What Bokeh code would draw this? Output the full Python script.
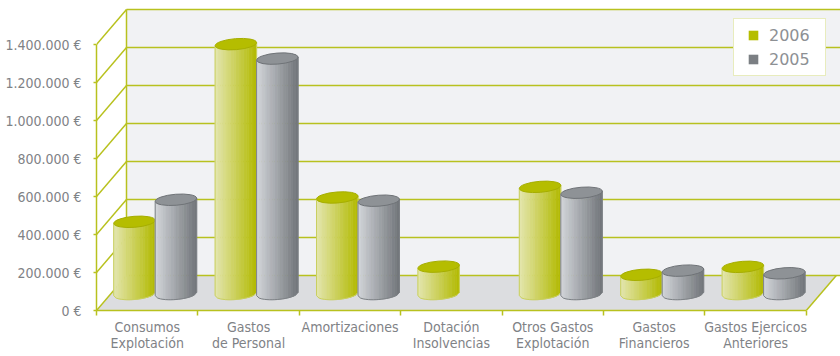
import math
from bokeh.plotting import figure
from bokeh.models import Range1d, FixedTicker, Legend, LegendItem
from bokeh.embed import file_html
from bokeh.resources import INLINE

# ---------------- data ----------------
categories = ["Consumos\nExplotación", "Gastos\nde Personal", "Amortizaciones",
              "Dotación\nInsolvencias", "Otros Gastos\nExplotación",
              "Gastos\nFinancieros", "Gastos Ejercicos\nAnteriores"]
series_names = ["2006", "2005"]
values_2006 = [380000, 1315000, 508000, 144000, 564000, 101000, 143000]
values_2005 = [496000, 1239000, 491000, 0, 533000, 123000, 109000]
y_ticks = [0, 200000, 400000, 600000, 800000, 1000000, 1200000, 1400000]
y_tick_labels = ["0 €", "200.000 €", "400.000 €", "600.000 €", "800.000 €",
                 "1.000.000 €", "1.200.000 €", "1.400.000 €"]

# ---------------- style / geometry ----------------
W, H = 840, 356
LEFT, BOTTOM = 96, 46
FRAME_W, FRAME_H = W - LEFT, H - BOTTOM
CAT_PX = 101.4
N_CAT = len(categories)
Y_TOP_VAL = y_ticks[-1]
PX_X = 1.0 / CAT_PX
PX_Y = Y_TOP_VAL / 266.0
X_END = FRAME_W * PX_X
Y_MAX = FRAME_H * PX_Y
DX, DY = 30 * PX_X, 35 * PX_Y

GRID = "#b8c11e"
WALL = "#f1f2f4"
FLOOR = "#dcdde0"
TEXT = "#7f8286"
FONT = "DejaVu Sans Condensed"

BAR_W = 41.5
OX, OY = 8.0, 16.5
ELL_H = 11.0
TILT = 0.08
NSTRIP = 16

series_style = {
    "2006": dict(light=(0xe4, 0xe6, 0xb0), dark=(0xb2, 0xba, 0x00), top="#b5bd00",
                 topline="#a6ae00", outline="#c9cf60", legend="#b5bd00"),
    "2005": dict(light=(0xd3, 0xd6, 0xda), dark=(0x70, 0x74, 0x79), top="#8e9296",
                 topline="#6f7377", outline="#7d8185", legend="#7b7f83"),
}

p = figure(width=W, height=H, output_backend="svg", toolbar_location=None,
           x_range=Range1d(0, X_END), y_range=Range1d(0, Y_MAX),
           min_border_left=LEFT, min_border_right=0, min_border_top=0,
           min_border_bottom=BOTTOM)
p.background_fill_color = "white"
p.border_fill_color = "white"
p.outline_line_color = None
p.xgrid.visible = False
p.ygrid.visible = False

# back wall and floor
p.quad(left=[DX], right=[X_END], bottom=[DY], top=[Y_TOP_VAL + DY],
       fill_color=WALL, line_color=None)
p.patch([0, N_CAT, N_CAT + DX, DX], [0, 0, DY, DY], fill_color=FLOOR, line_color=None)

# grid lines on wall + diagonals
p.segment(x0=[DX] * len(y_ticks), y0=[v + DY for v in y_ticks],
          x1=[X_END] * len(y_ticks), y1=[v + DY for v in y_ticks],
          line_color=GRID, line_width=1.5)
p.segment(x0=[0] * len(y_ticks), y0=y_ticks, x1=[DX] * len(y_ticks),
          y1=[v + DY for v in y_ticks], line_color=GRID, line_width=1.5)
p.segment(x0=[DX, N_CAT], y0=[DY, 0], x1=[DX, N_CAT + DX], y1=[Y_TOP_VAL + DY, DY],
          line_color=GRID, line_width=1.5)


def mix(c1, c2, t):
    return "#%02x%02x%02x" % tuple(int(round(a + (b - a) * t)) for a, b in zip(c1, c2))


a_px = BAR_W / 2.0
b_px = ELL_H / 2.0
slope = math.tan(TILT)

for i in range(N_CAT):
    for s, name in enumerate(series_names):
        val = (values_2006 if name == "2006" else values_2005)[i]
        if val <= 0:
            continue
        st = series_style[name]
        xc = i + 0.5 + OX * PX_X + (s - 0.5) * BAR_W * PX_X
        yb = OY * PX_Y
        yt = yb + val
        us = [-1 + 2.0 * k / NSTRIP for k in range(NSTRIP + 1)]
        xs = [xc + u * a_px * PX_X for u in us]
        tops = [yt + u * a_px * slope * PX_Y for u in us]
        bots = [yb + u * a_px * slope * PX_Y - b_px * math.sqrt(max(0.0, 1 - u * u)) * PX_Y
                for u in us]
        sx, sy, cols = [], [], []
        for j in range(NSTRIP):
            sx.append([xs[j], xs[j + 1], xs[j + 1], xs[j]])
            sy.append([tops[j], tops[j + 1], bots[j + 1], bots[j]])
            cols.append(mix(st["light"], st["dark"], (j + 0.5) / NSTRIP))
        p.patches(xs=sx, ys=sy, fill_color=cols, line_color=cols, line_width=0.6)
        p.line(x=[xs[0]] + xs + [xs[-1]], y=[tops[0]] + bots + [tops[-1]],
               line_color=st["outline"], line_width=1)
        p.ellipse(x=[xc], y=[yt], width=BAR_W, height=ELL_H, width_units="screen",
                  height_units="screen", angle=TILT, fill_color=st["top"],
                  line_color=st["topline"], line_width=1)

# legend proxies (placed outside the visible range)
legend_renderers = {}
for name in series_names:
    legend_renderers[name] = p.scatter(x=[-5], y=[-Y_MAX], marker="square", size=11,
                                       fill_color=series_style[name]["legend"],
                                       line_color=None)

# axes
ya = p.yaxis[0]
ya.ticker = FixedTicker(ticks=y_ticks, minor_ticks=[])
ya.major_label_overrides = {v: lab for v, lab in zip(y_ticks, y_tick_labels)}
ya.bounds = (0, Y_TOP_VAL)
ya.axis_line_color = GRID
ya.axis_line_width = 1.5
ya.major_tick_line_color = GRID
ya.major_tick_line_width = 1.5
ya.major_tick_out = 3
ya.major_tick_in = 0
ya.minor_tick_line_color = None
ya.major_label_standoff = 12
ya.major_label_text_font = FONT
ya.major_label_text_font_size = "14px"
ya.major_label_text_color = TEXT

centers = [i + 0.5 for i in range(N_CAT)]
xa = p.xaxis[0]
xa.ticker = FixedTicker(ticks=centers, minor_ticks=list(range(N_CAT + 1)))
xa.major_label_overrides = {c: lab for c, lab in zip(centers, categories)}
xa.bounds = (0, N_CAT)
xa.axis_line_color = GRID
xa.axis_line_width = 1.5
xa.major_tick_line_color = None
xa.major_tick_out = 0
xa.major_tick_in = 0
xa.minor_tick_line_color = GRID
xa.minor_tick_line_width = 1.5
xa.minor_tick_out = 5
xa.minor_tick_in = 0
xa.major_label_standoff = 3
xa.major_label_text_font = FONT
xa.major_label_text_font_size = "14px"
xa.major_label_text_color = TEXT
xa.major_label_text_line_height = 1.0

legend = Legend(items=[LegendItem(label=n, renderers=[legend_renderers[n]]) for n in series_names],
                location=(637, 234), glyph_width=30, glyph_height=24, spacing=0,
                padding=4, label_standoff=1, label_width=52, label_height=24,
                border_line_color="#d2d97c", border_line_width=1.5,
                background_fill_color="white", background_fill_alpha=1.0,
                label_text_font="DejaVu Sans", label_text_font_size="16px",
                label_text_color="#8d9094")
p.add_layout(legend)

open("out.html", "w").write(file_html(p, INLINE))
